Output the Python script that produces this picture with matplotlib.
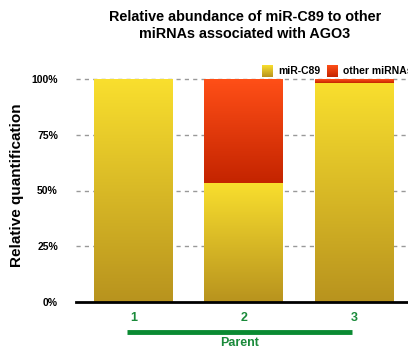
import numpy as np
import matplotlib.pyplot as plt
from matplotlib.colors import LinearSegmentedColormap
import matplotlib.transforms as mtransforms

plt.rcParams['font.family'] = ['Liberation Sans', 'DejaVu Sans']

groups = ['1', '2', '3']
mir_c89 = [100.0, 53.4, 98.3]
other = [0.0, 46.6, 1.7]

yellow = LinearSegmentedColormap.from_list('yel', ['#b8931e', '#f9df2e'])
red = LinearSegmentedColormap.from_list('red', ['#c42400', '#ff4f17'])
grad = np.linspace(0, 1, 256).reshape(-1, 1)

fig = plt.figure(figsize=(4.08, 3.49), dpi=100)
ax = fig.add_axes([76 / 408, 47 / 349, 1 - 76 / 408, 223 / 349])

x = np.arange(1, len(groups) + 1)
w = 0.715
b1 = ax.bar(x, mir_c89, w, color='none', zorder=2)
b2 = ax.bar(x, other, w, bottom=mir_c89, color='none', zorder=2)


def fill_gradient(bars, cmap):
    for p in bars:
        x0, y0 = p.get_x(), p.get_y()
        h = p.get_height()
        if h <= 0:
            continue
        ax.imshow(grad, cmap=cmap, origin='lower', aspect='auto',
                  extent=(x0, x0 + p.get_width(), y0, y0 + h), zorder=2)


fill_gradient(b1, yellow)
fill_gradient(b2, red)

ax.set_xlim(0.48, 3.49)
ax.set_ylim(0, 100)
for v in [25, 50, 75, 100]:
    ax.axhline(v, color='#999999', lw=1, ls=(0, (3, 3)), zorder=1, clip_on=False)
ax.axhline(0, color='black', lw=2, zorder=3, clip_on=False)

for s in ax.spines.values():
    s.set_visible(False)
ax.set_yticks([0, 25, 50, 75, 100])
ax.set_yticklabels(['0%', '25%', '50%', '75%', '100%'], fontsize=7.5, fontweight='bold')
ax.tick_params(axis='y', length=0, pad=13)
ax.set_xticks(x)
ax.set_xticklabels(groups, fontsize=9, fontweight='bold', color='#1a8a3a')
ax.tick_params(axis='x', length=0, pad=7)
ax.set_ylabel('Relative quantification', fontsize=11, fontweight='bold')
ax.yaxis.set_label_coords(-0.157, 0.525)

# group bracket under the tick labels
tr = mtransforms.blended_transform_factory(ax.transData, ax.transAxes)
ax.plot([0.94, 2.98], [-0.135, -0.135], color='#0a8a32', lw=3.5,
        transform=tr, clip_on=False, solid_capstyle='butt')
ax.text(1.96, -0.158, 'Parent', transform=tr, ha='center', va='top',
        fontsize=9, fontweight='bold', color='#1a8a3a')

fig.text(0.60, 0.971, 'Relative abundance of miR-C89 to other\nmiRNAs associated with AGO3',
         ha='center', va='top', fontsize=10.4, fontweight='bold', linespacing=1.28)

# legend squares with the same gradients
for px, cmap, label in [(262, yellow, 'miR-C89'), (327, red, 'other miRNAs')]:
    lax = fig.add_axes([px / 408, (349 - 77) / 349, 11 / 408, 12 / 349])
    lax.imshow(grad, cmap=cmap, origin='lower', aspect='auto')
    lax.axis('off')
    fig.text((px + 16) / 408, (349 - 71) / 349, label, ha='left', va='center',
             fontsize=7.5, fontweight='bold')

fig.savefig('out.png', dpi=100)
